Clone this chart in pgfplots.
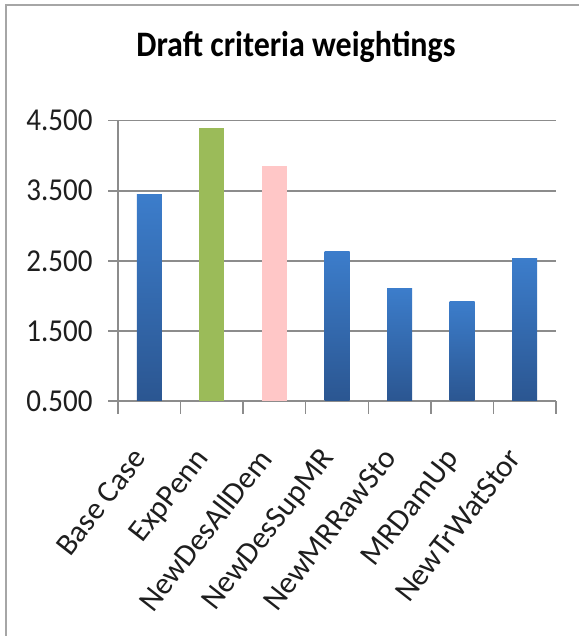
\documentclass[border=0pt]{standalone}
\usepackage{pgfplots}
\pgfplotsset{compat=1.18}
\usepackage{graphicx}
\usepackage{fontspec}
\setmainfont{Carlito}
\definecolor{blueTop}{HTML}{3C7DCB}
\definecolor{blueBot}{HTML}{2B5691}
\definecolor{barGreen}{HTML}{9BBB59}
\definecolor{barPink}{HTML}{FFC7C7}
\definecolor{gridGrey}{HTML}{8C8C8C}
\definecolor{frameGrey}{HTML}{A6A6A6}
\definecolor{labelCol}{HTML}{1E1E1E}
\begin{document}
\begin{tikzpicture}[x=1bp,y=1bp]
\useasboundingbox (0,0) rectangle (579,636);
\fill[white] (0,0) rectangle (579,636);
\draw[frameGrey, line width=2.5bp] (6,0) -- (6,631) -- (579,631);
\node[anchor=base, font=\fontsize{32bp}{38bp}\selectfont\bfseries] at (296,579) {\scalebox{1}[1.12]{Draft criteria weightings}};
\begin{axis}[
  at={(118bp,235bp)}, anchor=south west,
  scale only axis, width=438bp, height=280.3bp,
  xmin=-0.5, xmax=6.5, ymin=0.5, ymax=4.5,
  ytick={0.5,1.5,2.5,3.5,4.5},
  yticklabel={\scalebox{1}[1.1]{\pgfmathprintnumber[fixed,fixed zerofill,precision=3,assume math mode=true]{\tick}}},
  xtick={0,...,6},
  xticklabels={Base Case,ExpPenn,NewDesAllDem,NewDesSupMR,NewMRRawSto,MRDamUp,NewTrWatStor},
  minor xtick={-0.5,0.5,...,6.5},
  axis x line*=bottom, axis y line*=left,
  axis line style={-, gridGrey, line width=1.5bp},
  tick align=outside,
  major tick length=10bp, minor tick length=13bp,
  major x tick style={draw=none},
  minor x tick style={gridGrey, line width=1.5bp},
  ytick style={gridGrey, line width=1.5bp},
  ymajorgrids, grid style={gridGrey, line width=1.5bp},
  yticklabel style={font=\fontsize{29bp}{35bp}\selectfont, text=labelCol, xshift=-12bp},
  xticklabel style={font=\fontsize{31bp}{37bp}\selectfont, text=labelCol, xshift=-18bp, yshift=-35bp, rotate=52, anchor=north east, inner sep=0pt},
  clip=true,
]
\addplot[ybar, bar width=25bp, bar shift=0pt, draw=none, top color=blueTop, bottom color=blueBot] coordinates {(0,3.45)};
\addplot[ybar, bar width=25bp, bar shift=0pt, draw=none, fill=barGreen] coordinates {(1,4.39)};
\addplot[ybar, bar width=25bp, bar shift=0pt, draw=none, fill=barPink] coordinates {(2,3.86)};
\addplot[ybar, bar width=25bp, bar shift=0pt, draw=none, top color=blueTop, bottom color=blueBot] coordinates {(3,2.64)};
\addplot[ybar, bar width=25bp, bar shift=0pt, draw=none, top color=blueTop, bottom color=blueBot] coordinates {(4,2.11)};
\addplot[ybar, bar width=25bp, bar shift=0pt, draw=none, top color=blueTop, bottom color=blueBot] coordinates {(5,1.92)};
\addplot[ybar, bar width=25bp, bar shift=0pt, draw=none, top color=blueTop, bottom color=blueBot] coordinates {(6,2.53)};
\end{axis}
\end{tikzpicture}
\end{document}
